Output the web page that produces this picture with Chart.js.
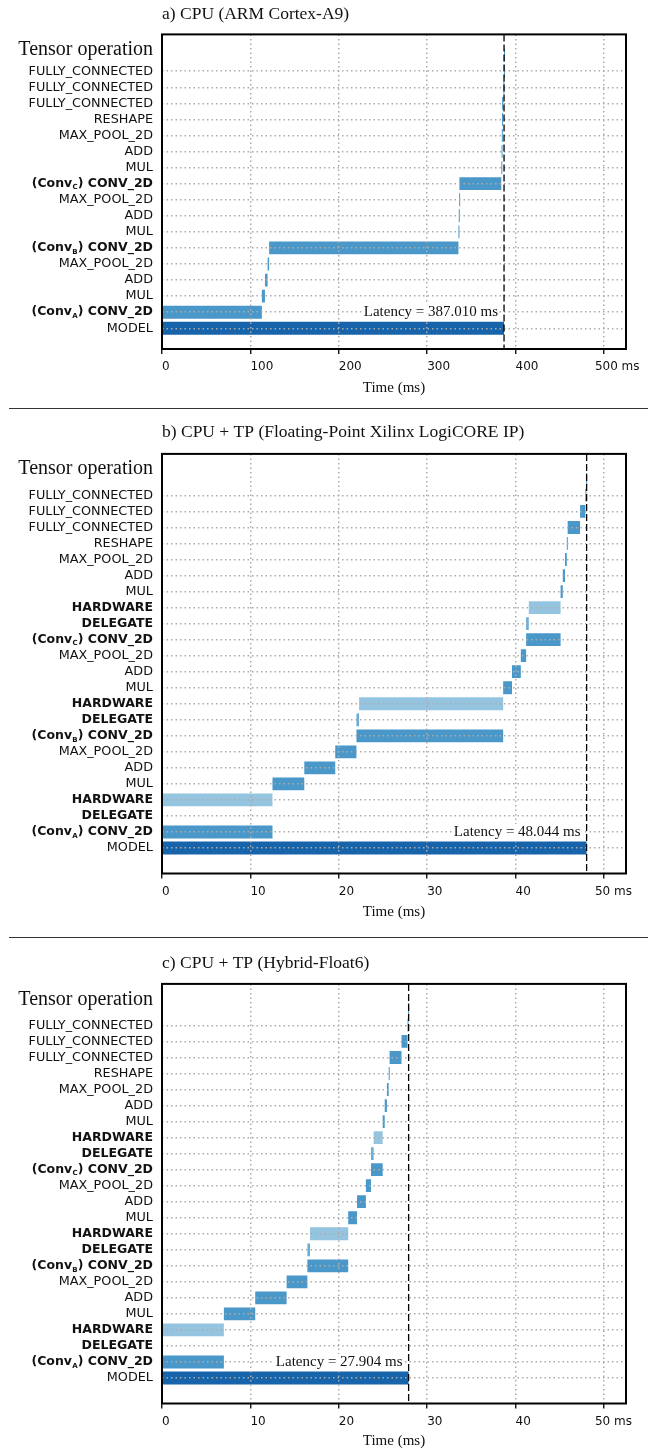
<!DOCTYPE html>
<html><head><meta charset="utf-8">
<script src="https://cdn.jsdelivr.net/npm/chart.js@4.4.0/dist/chart.umd.min.js"></script>
<style>
html,body{margin:0;padding:0;background:#fff;}
body{width:657px;height:1451px;position:relative;overflow:hidden;}
.wrap{position:absolute;left:0;width:657px;}
.wrap canvas{display:block;}
.sep{position:absolute;left:9px;width:639px;height:1.4px;background:#333;}
</style></head><body>
<div class="wrap" style="top:0;height:400px"><canvas id="ca" width="657" height="400"></canvas></div>
<div class="sep" style="top:407.5px"></div>
<div class="wrap" style="top:412px;height:512px"><canvas id="cb" width="657" height="512"></canvas></div>
<div class="sep" style="top:936.5px"></div>
<div class="wrap" style="top:941px;height:510px"><canvas id="cc" width="657" height="510"></canvas></div>
<script>
// ---------------- DATA ----------------
const yHeading = 'Tensor operation';
const xAxisTitle = 'Time (ms)';

const titleA = 'a) CPU (ARM Cortex-A9)';
const opsA = ['', 'FULLY_CONNECTED', 'FULLY_CONNECTED', 'FULLY_CONNECTED', 'RESHAPE', 'MAX_POOL_2D', 'ADD', 'MUL',
  '(Conv_C) CONV_2D', 'MAX_POOL_2D', 'ADD', 'MUL', '(Conv_B) CONV_2D', 'MAX_POOL_2D', 'ADD', 'MUL', '(Conv_A) CONV_2D', 'MODEL'];
const startA = [386.98, 386.85, 386.3, 384.85, 384.75, 384.5, 384.2, 383.9, 336.5, 336.2, 335.8, 335.4, 121.2, 119.5, 116.5, 113.0, 0, 0];
const endA   = [387.01, 386.98, 386.85, 386.3, 384.85, 384.75, 384.5, 384.2, 383.9, 336.5, 336.2, 335.8, 335.4, 121.2, 119.5, 116.5, 113.0, 387.01];
const latencyA = 387.010;
const xTicksA = [0, 100, 200, 300, 400, 500];
const xTickLabelsA = ['0', '100', '200', '300', '400', '500 ms'];

const titleB = 'b) CPU + TP (Floating-Point Xilinx LogiCORE IP)';
const opsB = ['', 'FULLY_CONNECTED', 'FULLY_CONNECTED', 'FULLY_CONNECTED', 'RESHAPE', 'MAX_POOL_2D', 'ADD', 'MUL',
  'HARDWARE', 'DELEGATE', '(Conv_C) CONV_2D', 'MAX_POOL_2D', 'ADD', 'MUL',
  'HARDWARE', 'DELEGATE', '(Conv_B) CONV_2D', 'MAX_POOL_2D', 'ADD', 'MUL',
  'HARDWARE', 'DELEGATE', '(Conv_A) CONV_2D', 'MODEL'];
const startB = [47.99, 47.9, 47.3, 45.9, 45.8, 45.6, 45.35, 45.1, 41.5, 41.2, 41.2, 40.6, 39.6, 38.6, 22.3, 22.0, 22.0, 19.6, 16.1, 12.5, 0.05, 0, 0, 0];
const endB   = [48.044, 47.99, 47.9, 47.3, 45.9, 45.8, 45.6, 45.35, 45.1, 41.5, 45.1, 41.2, 40.6, 39.6, 38.6, 22.3, 38.6, 22.0, 19.6, 16.1, 12.5, 0.05, 12.5, 48.044];
const latencyB = 48.044;
const xTicksB = [0, 10, 20, 30, 40, 50];
const xTickLabelsB = ['0', '10', '20', '30', '40', '50 ms'];

const titleC = 'c) CPU + TP (Hybrid-Float6)';
const opsC = opsB.slice();
const startC = [27.85, 27.78, 27.1, 25.75, 25.65, 25.45, 25.2, 24.97, 23.95, 23.65, 23.65, 23.07, 22.07, 21.07, 16.75, 16.45, 16.45, 14.1, 10.55, 7.0, 0.05, 0, 0, 0];
const endC   = [27.904, 27.85, 27.78, 27.1, 25.75, 25.65, 25.45, 25.2, 24.97, 23.95, 24.97, 23.65, 23.07, 22.07, 21.07, 16.75, 21.07, 16.45, 14.1, 10.55, 7.0, 0.05, 7.0, 27.904];
const latencyC = 27.904;
const xTicksC = xTicksB.slice();
const xTickLabelsC = xTickLabelsB.slice();

// ---------------- STYLE ----------------
const COL = { model: '#1764ab', op: '#4a98c9', hw: '#94c4df', del: '#6aaed6' };
const GRID = '#ababab';
const SANS = '"DejaVu Sans", sans-serif';
const SERIF = '"Liberation Serif", "Times New Roman", serif';
Chart.defaults.font.family = SANS;
Chart.defaults.color = '#111';
const X_TICK_PAD = 6, X_TICK_LEN = 5, X_TICK_FONT = 12;

function colorFor(l) {
  if (l === 'MODEL') return COL.model;
  if (l === 'HARDWARE') return COL.hw;
  if (l === 'DELEGATE') return COL.del;
  return COL.op;
}
const CONV_RE = /^\((\w+)_(\w)\) (.+)$/;
function isBold(l) { return l === 'HARDWARE' || l === 'DELEGATE' || CONV_RE.test(l); }

const overlay = {
  id: 'overlay',
  afterDraw(chart, args, o) {
    const { ctx, chartArea: a, scales: { x, y } } = chart;
    const ops = o.ops;
    ctx.save();
    // latency label
    const lx = x.getPixelForValue(o.latency);
    const txt = 'Latency = ' + o.latency.toFixed(3) + ' ms';
    ctx.font = '15px ' + SERIF;
    const w = ctx.measureText(txt).width;
    const ty = y.getPixelForValue(ops.length - 1) - 12;
    ctx.fillStyle = '#fff';
    ctx.fillRect(lx - 6 - w - 2, ty - 12, w + 3, 16);
    ctx.fillStyle = '#111';
    ctx.textAlign = 'right';
    ctx.textBaseline = 'alphabetic';
    ctx.fillText(txt, lx - 6, ty);
    // dashed latency line
    ctx.strokeStyle = '#000';
    ctx.lineWidth = 1.3;
    ctx.setLineDash([7, 3]);
    ctx.beginPath(); ctx.moveTo(lx, a.top); ctx.lineTo(lx, a.bottom); ctx.stroke();
    ctx.setLineDash([]);
    // frame
    ctx.lineWidth = 2;
    ctx.strokeRect(a.left, a.top, a.right - a.left, a.bottom - a.top);
    // last x tick label (with unit), set slightly left of its tick
    const lastI = o.xTicks.length - 1;
    ctx.font = X_TICK_FONT + 'px ' + SANS;
    ctx.textAlign = 'left';
    ctx.textBaseline = 'middle';
    ctx.fillText(o.xLabels[lastI], x.getPixelForValue(o.xTicks[lastI]) - 9,
      a.bottom + X_TICK_LEN + X_TICK_PAD + X_TICK_FONT * 0.6);
    // conv labels with subscripts
    ctx.textAlign = 'right';
    const xr = y.right - 9;
    ops.forEach((l, i) => {
      const m = l.match(CONV_RE);
      if (!m) return;
      const yy = y.getPixelForValue(i);
      ctx.font = 'bold 12.5px ' + SANS;
      const rest = ') ' + m[3];
      ctx.fillText(rest, xr, yy);
      const w1 = ctx.measureText(rest).width;
      ctx.font = 'bold 7px ' + SANS;
      ctx.fillText(m[2], xr - w1, yy + 4);
      const w2 = ctx.measureText(m[2]).width;
      ctx.font = 'bold 12.5px ' + SANS;
      ctx.fillText('(' + m[1], xr - w1 - w2 - 0.3, yy);
    });
    ctx.restore();
  }
};

function makeChart(id, p) {
  const n = p.ops.length;
  const pad = 0.4 + 0.05 * (n - 1 + 0.8);
  return new Chart(document.getElementById(id), {
    type: 'bar',
    data: {
      datasets: [{
        data: p.ops.map((_, i) => ({ x: [p.start[i], p.end[i]], y: i })),
        backgroundColor: p.ops.map(colorFor),
        borderWidth: 0,
        barPercentage: 0.8,
        categoryPercentage: 1,
        minBarLength: 1
      }]
    },
    options: {
      indexAxis: 'y',
      responsive: false,
      animation: false,
      devicePixelRatio: 1,
      events: [],
      layout: { padding: { top: p.padTop, left: 0, right: 31, bottom: 0 } },
      plugins: {
        legend: { display: false },
        tooltip: { enabled: false },
        title: {
          display: true, text: p.title, align: 'start', fullSize: false, color: '#111',
          font: { family: SERIF, size: 17.5, weight: 'normal', lineHeight: 1.2 },
          padding: { top: 0, bottom: p.titlePad }
        },
        overlay: { latency: p.latency, ops: p.ops, xTicks: p.xTicks, xLabels: p.xLabels }
      },
      scales: {
        x: {
          type: 'linear', min: 0, max: p.xMax, offset: false,
          afterBuildTicks: s => { s.ticks = p.xTicks.map(v => ({ value: v })); },
          afterFit: s => { s.height = p.xH; },
          grid: { z: 1, offset: false, color: GRID, lineWidth: 1.5, drawTicks: true, tickLength: X_TICK_LEN, tickColor: '#000', tickWidth: 1.3, tickBorderDash: [] },
          border: { display: false, dash: [1.5, 3] },
          ticks: {
            autoSkip: false, maxRotation: 0, align: 'start', padding: X_TICK_PAD, color: '#111',
            font: { family: SANS, size: X_TICK_FONT },
            callback: (v, i) => i === p.xTicks.length - 1 ? '' : p.xLabels[i]
          },
          title: { display: true, text: xAxisTitle, color: '#111', font: { family: SERIF, size: 15, lineHeight: 1.2 }, padding: { top: 0, bottom: p.xTitlePad } }
        },
        y: {
          type: 'linear', reverse: true, min: -pad, max: n - 1 + pad, offset: false,
          afterBuildTicks: s => { s.ticks = p.ops.map((_, i) => ({ value: i })); },
          afterFit: s => { s.width = 162; },
          grid: { z: 1, offset: false, drawTicks: false, lineWidth: 1.5, color: c => c.index === 0 ? 'rgba(0,0,0,0)' : GRID },
          border: { display: false, dash: [1.5, 3] },
          ticks: {
            autoSkip: false, padding: 9, color: '#111',
            font: c => {
              const l = p.ops[c.index] || '';
              if (c.index === 0) return { family: SERIF, size: 20, lineHeight: p.headLH };
              return isBold(l) ? { family: SANS, size: 12.5, weight: 'bold' } : { family: SANS, size: 12.8, weight: 'normal' };
            },
            callback: (v, i) => {
              if (i === 0) return [yHeading, ''];
              const l = p.ops[i];
              return CONV_RE.test(l) ? '' : l;
            }
          }
        }
      }
    },
    plugins: [overlay]
  });
}

makeChart('ca', { title: titleA, ops: opsA, start: startA, end: endA, latency: latencyA, xMax: 525,
  xTicks: xTicksA, xLabels: xTickLabelsA, padTop: 3.7, titlePad: 9.7, xH: 51, xTitlePad: 3, headLH: 0.5 });
makeChart('cb', { title: titleB, ops: opsB, start: startB, end: endB, latency: latencyB, xMax: 52.5,
  xTicks: xTicksB, xLabels: xTickLabelsB, padTop: 9.7, titlePad: 11.2, xH: 50.5, xTitlePad: 3, headLH: 1.05 });
makeChart('cc', { title: titleC, ops: opsC, start: startC, end: endC, latency: latencyC, xMax: 52.5,
  xTicks: xTicksC, xLabels: xTickLabelsC, padTop: 11.7, titlePad: 10.2, xH: 47.5, xTitlePad: 0.5, headLH: 0.95 });
</script>
</body></html>
